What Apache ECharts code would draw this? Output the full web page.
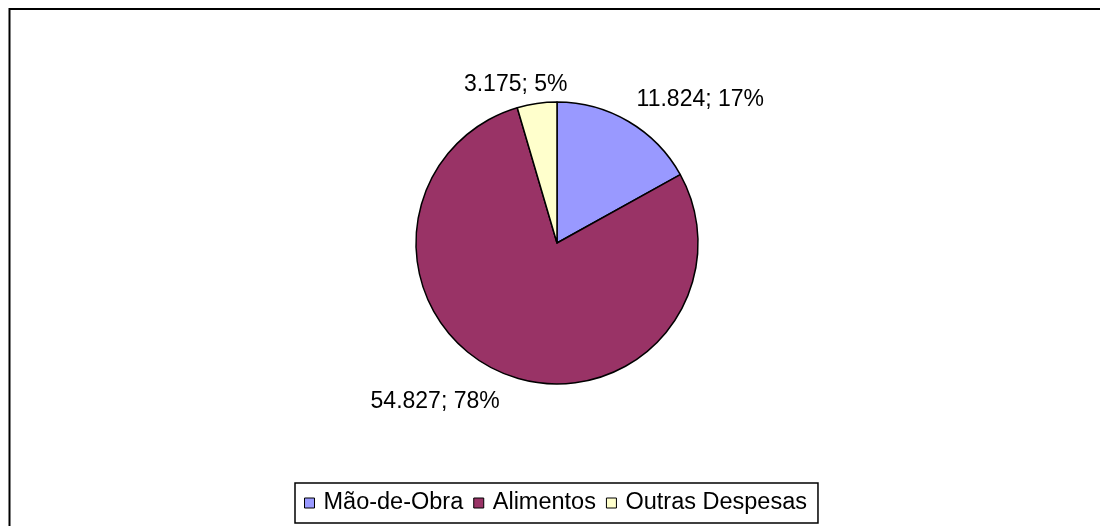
<!DOCTYPE html>
<html>
<head>
<meta charset="utf-8">
<script src="https://cdn.jsdelivr.net/npm/echarts@6/dist/echarts.min.js"></script>
<style>
html,body{margin:0;padding:0;background:#fff;}
#chart{width:1100px;height:526px;}
</style>
</head>
<body>
<div id="chart"></div>
<script>
var categories = ['Mão-de-Obra', 'Alimentos', 'Outras Despesas'];
var values = [11824, 54827, 3175];
var colors = ['#9999FF', '#993366', '#FFFFCC'];

function fmt(v) {
  return String(v).replace(/\B(?=(\d{3})+(?!\d))/g, '.');
}

var labelShift = [
  { dx: -2, dy: -13 },
  { dx: 5, dy: 19 },
  { dx: 37, dy: -9 }
];

var FONT = 'Liberation Sans, Arial, sans-serif';

var chart = echarts.init(document.getElementById('chart'), null, { renderer: 'canvas' });
chart.setOption({
  animation: false,
  backgroundColor: '#ffffff',
  textStyle: { fontFamily: FONT },
  graphic: [{
    type: 'rect',
    shape: { x: 9.5, y: 9, width: 1200, height: 700 },
    style: { fill: 'none', stroke: '#000', lineWidth: 2 },
    silent: true
  }],
  legend: {
    data: categories,
    top: 483,
    left: 295,
    orient: 'horizontal',
    icon: 'rect',
    itemWidth: 10,
    itemHeight: 10,
    itemGap: 10,
    padding: [8, 11, 8, 9],
    borderColor: '#000',
    borderWidth: 1.5,
    backgroundColor: '#fff',
    textStyle: { fontSize: 23.5, color: '#000', fontFamily: FONT, padding: [0, 0, 0, 4] },
    itemStyle: { borderColor: '#000', borderWidth: 1 }
  },
  series: [{
    type: 'pie',
    center: [557, 243],
    radius: 141,
    startAngle: 90,
    clockwise: true,
    percentPrecision: 0,
    avoidLabelOverlap: false,
    emphasis: { disabled: true },
    itemStyle: { borderColor: '#000', borderWidth: 1.5 },
    label: {
      show: true,
      position: 'outside',
      fontSize: 23,
      color: '#000',
      fontFamily: FONT,
      formatter: function (p) { return fmt(p.value) + '; ' + p.percent + '%'; }
    },
    labelLine: { show: false, length: 10, length2: 0 },
    labelLayout: function (params) {
      return labelShift[params.dataIndex];
    },
    data: categories.map(function (c, i) {
      return { name: c, value: values[i], itemStyle: { color: colors[i] } };
    })
  }]
});
</script>
</body>
</html>
